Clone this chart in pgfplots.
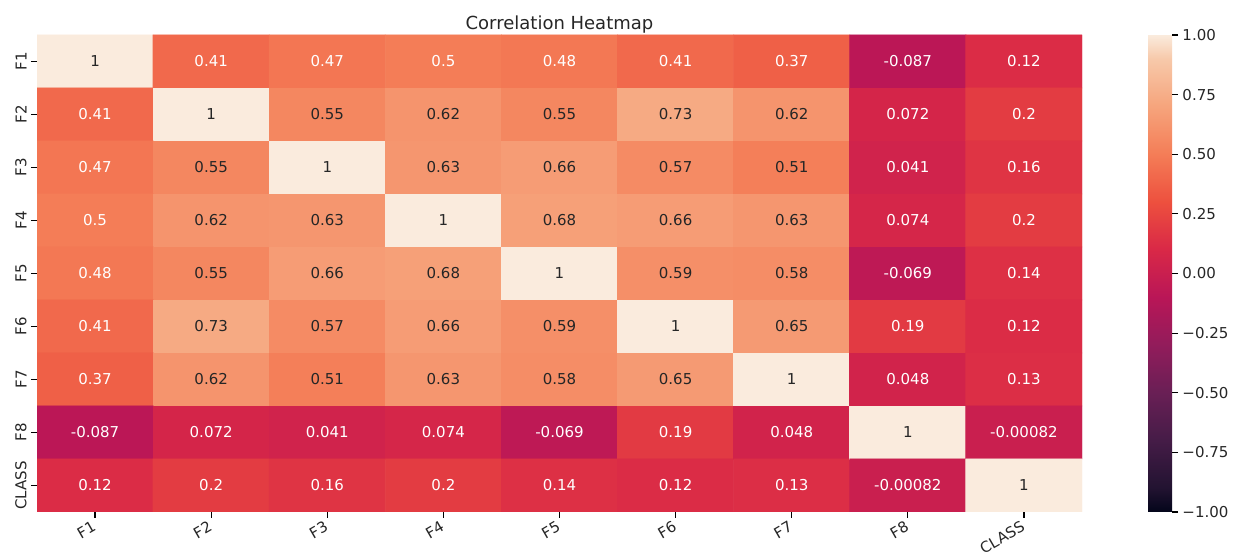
\documentclass[border=0pt]{standalone}
\usepackage{fontspec}
\setmainfont{DejaVu Sans}
\usepackage{pgfplots}
\usepackage{pgfplotstable}
\pgfplotsset{compat=1.18}
\definecolor{txtdark}{HTML}{262626}
\pgfplotstableread{
x y v
0 0 1
1 0 0.41
2 0 0.47
3 0 0.5
4 0 0.48
5 0 0.41
6 0 0.37
7 0 -0.087
8 0 0.12
0 1 0.41
1 1 1
2 1 0.55
3 1 0.62
4 1 0.55
5 1 0.73
6 1 0.62
7 1 0.072
8 1 0.2
0 2 0.47
1 2 0.55
2 2 1
3 2 0.63
4 2 0.66
5 2 0.57
6 2 0.51
7 2 0.041
8 2 0.16
0 3 0.5
1 3 0.62
2 3 0.63
3 3 1
4 3 0.68
5 3 0.66
6 3 0.63
7 3 0.074
8 3 0.2
0 4 0.48
1 4 0.55
2 4 0.66
3 4 0.68
4 4 1
5 4 0.59
6 4 0.58
7 4 -0.069
8 4 0.14
0 5 0.41
1 5 0.73
2 5 0.57
3 5 0.66
4 5 0.59
5 5 1
6 5 0.65
7 5 0.19
8 5 0.12
0 6 0.37
1 6 0.62
2 6 0.51
3 6 0.63
4 6 0.58
5 6 0.65
6 6 1
7 6 0.048
8 6 0.13
0 7 -0.087
1 7 0.072
2 7 0.041
3 7 0.074
4 7 -0.069
5 7 0.19
6 7 0.048
7 7 1
8 7 -0.00082
0 8 0.12
1 8 0.2
2 8 0.16
3 8 0.2
4 8 0.14
5 8 0.12
6 8 0.13
7 8 -0.00082
8 8 1
}\corr
\begin{document}
\begin{tikzpicture}
\useasboundingbox (0,0) rectangle (616.5pt,277.5pt);
\begin{axis}[
  at={(18.5pt,21.5pt)}, anchor=south west,
  scale only axis, width=522.5pt, height=238.5pt,
  xmin=-0.5, xmax=8.5, ymin=-0.5, ymax=8.5, y dir=reverse,
  enlargelimits=false,
  xtick={0,1,2,3,4,5,6,7,8}, ytick={0,1,2,3,4,5,6,7,8},
  xticklabels={F1,F2,F3,F4,F5,F6,F7,F8,CLASS},
  yticklabels={F1,F2,F3,F4,F5,F6,F7,F8,CLASS},
  tick align=outside, major tick length=3pt,
  xtick pos=bottom, ytick pos=left,
  tick style={black, line width=0.6pt},
  axis line style={draw=none},
  ticklabel style={font=\fontsize{7.5}{8}\selectfont, text=txtdark},
  xticklabel style={rotate=30, anchor=north east, inner sep=1pt, xshift=-1pt, yshift=1pt},
  yticklabel style={rotate=90, anchor=south, inner sep=2pt},
  title={Correlation Heatmap},
  title style={font=\fontsize{9}{10}\selectfont, text=txtdark, at={(0.5,1)}, anchor=base, yshift=-3.5pt},
  colormap={rocket}{rgb255(0cm)=(3,5,26) rgb255(1cm)=(34,19,49) rgb255(3cm)=(69,28,71) rgb255(5cm)=(105,31,85) rgb255(7cm)=(146,28,91) rgb255(9cm)=(185,22,87) rgb255(11cm)=(217,40,71) rgb255(13cm)=(237,80,62) rgb255(15cm)=(244,125,87) rgb255(17cm)=(246,164,124) rgb255(19cm)=(247,201,170) rgb255(20cm)=(250,235,221)},
  point meta min=-1, point meta max=1,
  colorbar,
  colorbar style={
    at={(parent axis.north east)}, anchor=north west, xshift=24.5pt,
    scale only axis, width=12pt, height=238.5pt,
    ytick={-1,-0.75,-0.5,-0.25,0,0.25,0.5,0.75,1},
    yticklabels={−1.00,−0.75,−0.50,−0.25,0.00,0.25,0.50,0.75,1.00},
    xtick=\empty,
    tick align=outside, major tick length=3pt,
    ytick pos=right, yticklabel pos=right,
    tick style={black, line width=0.6pt},
    axis line style={draw=none},
    yticklabel style={font=\fontsize{7.5}{8}\selectfont, text=txtdark, inner sep=2pt},
  },
]
\addplot[matrix plot*, mesh/cols=9, point meta=\thisrow{v}] table[x=x, y=y] {\corr};
\addplot[draw=none, mark=none, point meta=explicit symbolic,
  unbounded coords=discard,
  restrict expr to domain={\thisrow{v}}{0.505:2},
  nodes near coords, nodes near coords align=center,
  every node near coord/.append style={font=\fontsize{7.5}{8}\selectfont, anchor=center, text=txtdark}]
  table[x=x, y=y, meta=v] {\corr};
\addplot[draw=none, mark=none, point meta=explicit symbolic,
  unbounded coords=discard,
  restrict expr to domain={\thisrow{v}}{-2:0.505},
  nodes near coords, nodes near coords align=center,
  every node near coord/.append style={font=\fontsize{7.5}{8}\selectfont, anchor=center, text=white}]
  table[x=x, y=y, meta=v] {\corr};
\end{axis}
\end{tikzpicture}
\end{document}
